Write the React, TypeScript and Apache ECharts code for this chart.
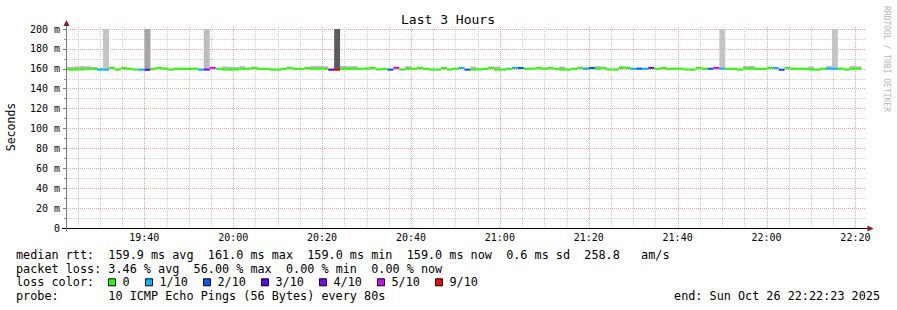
import React, { useEffect, useRef } from "react";
import * as echarts from "echarts";

// ---------- data ----------
// time axis in minutes since midnight; the graph spans the last 3 hours up to 22:22:23
const AXIS_END = 22 * 60 + 22 + 23 / 60;
const AXIS_START = AXIS_END - 180;
const FIRST_SAMPLE = AXIS_START - 1; // first 80 s bin begins at 19:21:23
const STEP = 80 / 60;

const timeLabels = ["19:40", "20:00", "20:20", "20:40", "21:00", "21:20", "21:40", "22:00", "22:20"];

// median round trip time per 80 s bin (ms)
const medianMs = [
  159.2, 159.1, 159.2, 159.3, 160.0, 159.9, 159.2, 159.1, 160.9, 159.1,
  160.8, 160.0, 159.2, 159.1, 159.0, 160.0, 160.9, 160.1, 159.2, 160.0,
  159.9, 160.0, 160.1, 159.1, 159.2, 160.9, 160.0, 159.2, 159.1, 159.3,
  160.0, 160.1, 160.8, 160.0, 159.9, 159.2, 159.1, 160.0, 161.0, 160.0,
  159.9, 160.8, 160.0, 160.1, 160.0, 159.1, 159.0, 160.0, 159.9, 160.0,
  160.0, 160.1, 160.9, 159.3, 159.9, 159.1, 161.0, 159.2, 160.0, 160.1,
  160.9, 160.0, 159.2, 159.1, 160.8, 159.2, 160.0, 160.9, 159.1, 159.2,
  159.3, 160.0, 160.9, 159.1, 159.2, 160.0, 160.9, 160.8, 160.0, 160.1,
  160.9, 160.0, 160.8, 160.0, 159.2, 159.1, 160.0, 160.9, 160.1, 160.8,
  160.0, 160.9, 159.2, 159.1, 160.8, 160.9, 160.0, 160.1, 160.0, 160.9,
  160.0, 160.8, 160.0, 160.1, 160.0, 159.2, 159.1, 160.9, 160.0, 160.0,
  160.9, 160.1, 160.0, 159.9, 159.1, 160.0, 160.1, 160.0, 159.9, 160.9,
  160.8, 159.0, 160.9, 160.0, 160.1, 160.0, 159.2, 159.1, 160.0, 160.1,
  160.0, 160.1, 159.2, 160.0, 159.9,
];

// lost pings (out of 10) per bin
const lossPings = [
  0, 0, 0, 0, 0, 0, 0.6, 0.7, 0, 0,
  0, 0, 0, 0.6, 2.6, 0, 0, 0, 0, 0,
  0, 0, 0, 0.6, 3.4, 4.6, 0, 0, 0, 0,
  0, 0, 0, 0, 0, 0, 0, 0, 0, 0,
  0, 0, 0, 0, 0, 2.5, 5.6, 0, 0, 0,
  0, 0, 0, 0, 0, 1.5, 4.5, 0, 0, 0,
  0, 0, 0, 0, 0, 0, 0, 0.6, 1.5, 0,
  0, 0, 0, 0, 0, 0, 0.6, 1.6, 0, 0,
  0, 0, 0, 0, 0, 0, 0, 0, 0.6, 1.5,
  0, 0, 0, 0, 0, 0, 0.6, 1.5, 0.6, 3.5,
  0, 0, 0, 0, 0, 0, 0, 0, 0, 1.5,
  4.5, 0.7, 0, 0, 0, 0, 0, 0, 0, 0,
  0.6, 1.5, 0, 0, 0, 0, 0, 0, 0, 0.6,
  0.7, 0, 0, 0, 0,
];

// slowest ping per bin (ms) - top of the smoke
const maxPingMs = [
  162.3, 162.0, 162.4, 162.6, 162.5, 161.9, 160.4, 231.0, 161.6, 160.3,
  161.5, 160.9, 160.2, 160.1, 226.0, 161.0, 161.8, 161.1, 160.2, 161.3,
  161.2, 161.0, 161.1, 160.3, 233.0, 161.7, 160.9, 162.3, 162.1, 161.9,
  162.6, 161.1, 161.6, 161.0, 160.8, 160.3, 160.2, 161.0, 161.7, 161.1,
  160.9, 161.6, 162.8, 162.9, 162.7, 160.2, 228.0, 162.8, 162.6, 162.7,
  161.0, 161.2, 161.8, 160.3, 160.9, 160.2, 161.9, 160.2, 162.7, 161.1,
  161.7, 161.0, 160.3, 160.2, 161.6, 160.4, 161.1, 161.8, 160.2, 162.3,
  160.4, 161.0, 161.7, 162.2, 160.3, 161.1, 161.7, 161.6, 161.0, 161.2,
  161.8, 161.1, 161.6, 161.0, 162.3, 160.2, 161.0, 161.7, 161.2, 161.6,
  162.8, 161.7, 160.3, 160.2, 162.6, 161.7, 161.0, 161.1, 161.0, 161.7,
  161.0, 161.6, 161.1, 161.0, 161.1, 160.3, 160.2, 161.8, 161.1, 161.0,
  161.8, 229.0, 161.0, 160.9, 160.3, 162.8, 162.9, 161.0, 160.9, 161.8,
  161.6, 160.1, 161.7, 161.0, 161.1, 161.0, 162.3, 160.2, 161.0, 162.7,
  232.0, 161.2, 160.3, 162.7, 162.6,
];

// bins with pings far above the scale, and how many pings they hold
const spikeIndex = [7, 14, 24, 46, 111, 130];
const spikePings = [1, 2, 1, 3, 1, 1];

const lossLegend = ["0", "1/10", "2/10", "3/10", "4/10", "5/10", "9/10"];
const lossLimit = [0, 1, 2, 3, 4, 5, 9];
const lossColors = ["#26ff00", "#00b8ff", "#0059ff", "#5e00ff", "#7e00ff", "#dd00ff", "#ff0000"];

const titleText = "Last 3 Hours";
const yTitle = "Seconds";
const watermark = "RRDTOOL / TOBI OETIKER";
const statLines = [
  "median rtt:  159.9 ms avg  161.0 ms max  159.0 ms min  159.0 ms now  0.6 ms sd  258.8   am/s",
  "packet loss: 3.46 % avg  56.00 % max  0.00 % min  0.00 % now",
];
const lossLabel = "loss color:";
const probeLine = "probe:       10 ICMP Echo Pings (56 Bytes) every 80s";
const endLine = "end: Sun Oct 26 22:22:23 2025";

// ---------- styling ----------
const MONO = '"DejaVu Sans Mono", monospace';
const FS = 11.8;
const CW = FS * 0.602;
const TX = 16;
const RED_GRID = "#eea0a0";
const GRAY_GRID = "#cfcfcf";
const Y_MAX = 200;

const toMin = (s: string) => {
  const [h, m] = s.split(":").map(Number);
  return h * 60 + m;
};
const fmtTime = (v: number) => {
  const h = Math.floor(v / 60);
  const m = Math.round(v - h * 60);
  return `${h}:${m < 10 ? "0" : ""}${m}`;
};
const lossColor = (l: number) => {
  for (let i = 0; i < lossLimit.length; i++) if (l <= lossLimit[i]) return lossColors[i];
  return lossColors[lossColors.length - 1];
};

function textTokens(line: string, x0: number, y: number) {
  const out: any[] = [];
  const re = /\S+(?: \S+)*/g;
  let m: RegExpExecArray | null;
  while ((m = re.exec(line))) {
    out.push({
      type: "text",
      x: x0 + m.index * CW,
      y,
      z: 100,
      style: { text: m[0], fontFamily: MONO, fontSize: FS, fill: "#000", textVerticalAlign: "middle" },
    });
  }
  return out;
}

function buildOption() {
  const bins = medianMs.map((med, i) => {
    const t0 = FIRST_SAMPLE + i * STEP;
    return { t0, t1: t0 + STEP, med, loss: lossPings[i], top: maxPingMs[i] };
  });

  const smokeData = bins.map((b, i) => {
    const k = spikeIndex.indexOf(i);
    let shade = 184;
    if (k >= 0) {
      const share = spikePings[k] / (10 - b.loss);
      shade = Math.round(215 - share * 180);
    }
    return [b.t0, b.t1, b.med, b.top, shade];
  });
  const medianData = bins.map((b) => [b.t0, b.t1, b.med, b.loss]);

  const gridTimes: number[][] = [];
  for (let t = Math.ceil(AXIS_START / 5) * 5; t <= AXIS_END; t += 5) gridTimes.push([t]);

  const clipTo = (params: any, r: any) =>
    echarts.graphic.clipRectByRect(r, {
      x: params.coordSys.x,
      y: params.coordSys.y,
      width: params.coordSys.width,
      height: params.coordSys.height,
    });

  const graphic: any[] = [];
  // title
  graphic.push({
    type: "text", x: 448, y: 19, z: 100,
    style: { text: titleText, fontFamily: MONO, fontSize: 13, fill: "#000", textAlign: "center", textVerticalAlign: "middle" },
  });
  graphic.push({
    type: "text", x: 11, y: 127, rotation: Math.PI / 2, z: 100,
    style: { text: yTitle, fontFamily: MONO, fontSize: 11.5, fill: "#000", textAlign: "center", textVerticalAlign: "middle" },
  });
  graphic.push({
    type: "text", x: 886, y: 59, rotation: -Math.PI / 2, z: 100,
    style: { text: watermark, fontFamily: MONO, fontSize: 8, fill: "#b8b8b8", textAlign: "center", textVerticalAlign: "middle" },
  });
  // axes lines and arrows
  graphic.push({ type: "line", z: 100, shape: { x1: 62, y1: 228.5, x2: 868, y2: 228.5 }, style: { stroke: "#000", lineWidth: 1 } });
  graphic.push({ type: "line", z: 100, shape: { x1: 66.5, y1: 231, x2: 66.5, y2: 25 }, style: { stroke: "#7a7a7a", lineWidth: 1 } });
  graphic.push({ type: "polygon", z: 101, shape: { points: [[867.5, 225.5], [873.5, 228.5], [867.5, 231.5]] }, style: { fill: "#8b1c1c" } });
  graphic.push({ type: "polygon", z: 101, shape: { points: [[63.5, 26], [66.5, 20], [69.5, 26]] }, style: { fill: "#8b1c1c" } });

  // stats text
  const rowY = [254.7, 268.5, 282.3, 296.1];
  graphic.push(...textTokens(statLines[0], TX, rowY[0]));
  graphic.push(...textTokens(statLines[1], TX, rowY[1]));
  graphic.push(...textTokens(lossLabel, TX, rowY[2]));
  let bx = 108.5;
  lossLegend.forEach((lab, i) => {
    graphic.push({
      type: "rect", z: 100,
      shape: { x: bx, y: rowY[2] - 3.5, width: 7, height: 7 },
      style: { fill: lossColors[i], stroke: "#000", lineWidth: 1 },
    });
    const lx = bx + 14;
    graphic.push({
      type: "text", x: lx, y: rowY[2], z: 100,
      style: { text: lab, fontFamily: MONO, fontSize: FS, fill: "#000", textVerticalAlign: "middle" },
    });
    bx = Math.round(lx + lab.length * CW + 15.3) + 0.5;
  });
  graphic.push(...textTokens(probeLine, TX, rowY[3]));
  graphic.push({
    type: "text", x: 880, y: rowY[3], z: 100,
    style: { text: endLine, fontFamily: MONO, fontSize: FS, fill: "#000", textAlign: "right", textVerticalAlign: "middle" },
  });

  return {
    animation: false,
    backgroundColor: "#ffffff",
    grid: { left: 66, top: 29, width: 800, height: 199 },
    xAxis: {
      type: "value",
      min: AXIS_START,
      max: AXIS_END,
      axisLine: { show: false },
      axisTick: { show: false },
      splitLine: { show: false },
      axisLabel: {
        customValues: timeLabels.map(toMin),
        formatter: (v: number) => fmtTime(v),
        fontFamily: MONO,
        fontSize: 10,
        color: "#000",
        margin: 4,
      },
    },
    yAxis: {
      type: "value",
      min: 0,
      max: Y_MAX,
      interval: 20,
      axisLine: { show: false },
      axisTick: { show: true, length: 3, lineStyle: { color: "#777" } },
      minorTick: { show: true, splitNumber: 2, length: 2, lineStyle: { color: "#999" } },
      splitLine: { show: true, lineStyle: { color: RED_GRID, width: 1, type: [1, 1] } },
      minorSplitLine: { show: true, lineStyle: { color: GRAY_GRID, width: 1, type: [1, 1] } },
      axisLabel: {
        formatter: (v: number) => (v === 0 ? "0" : `${v} m`),
        fontFamily: MONO,
        fontSize: 10,
        color: "#000",
        margin: 6,
      },
    },
    series: [
      {
        type: "custom",
        name: "grid",
        silent: true,
        z: 1,
        data: gridTimes,
        encode: { x: 0 },
        renderItem: (params: any, api: any) => {
          const t = api.value(0);
          const top = api.coord([t, Y_MAX]);
          const bot = api.coord([t, 0]);
          const x = Math.round(top[0]) + 0.5;
          const major = Math.round(t) % 20 === 0;
          return {
            type: "line",
            shape: { x1: x, y1: top[1] - 2, x2: x, y2: bot[1] },
            style: { stroke: major ? RED_GRID : GRAY_GRID, lineWidth: 1, lineDash: [1, 1] },
          };
        },
      },
      {
        type: "custom",
        name: "smoke",
        silent: true,
        z: 2,
        data: smokeData,
        encode: { x: [0, 1], y: [2, 3] },
        renderItem: (params: any, api: any) => {
          const p0 = api.coord([api.value(0), api.value(3)]);
          const p1 = api.coord([api.value(1), api.value(2)]);
          const g = api.value(4);
          const r = clipTo(params, { x: p0[0], y: p0[1], width: p1[0] - p0[0], height: p1[1] - p0[1] });
          if (!r) return null;
          return { type: "rect", shape: r, style: { fill: `rgb(${g},${g},${g})` } };
        },
      },
      {
        type: "custom",
        name: "median rtt",
        silent: true,
        z: 3,
        data: medianData,
        encode: { x: [0, 1], y: 2 },
        renderItem: (params: any, api: any) => {
          const p0 = api.coord([api.value(0), api.value(2)]);
          const p1 = api.coord([api.value(1), api.value(2)]);
          const r = clipTo(params, { x: p0[0], y: p0[1] - 1, width: p1[0] - p0[0], height: 2 });
          if (!r) return null;
          return { type: "rect", shape: r, style: { fill: lossColor(api.value(3)) } };
        },
      },
    ],
    graphic,
  };
}

export default function App() {
  const ref = useRef<HTMLDivElement>(null);
  useEffect(() => {
    if (!ref.current) return;
    const chart = echarts.init(ref.current, undefined, { renderer: "svg" });
    chart.setOption(buildOption() as any);
    return () => chart.dispose();
  }, []);
  return (
    <div
      ref={ref}
      style={{ position: "fixed", left: 0, top: 0, width: 897, height: 310, background: "#fff" }}
    />
  );
}
